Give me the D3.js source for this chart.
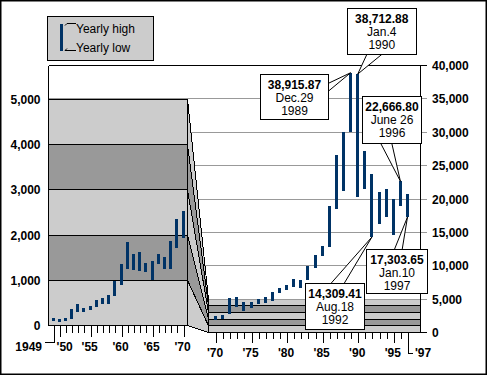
<!DOCTYPE html>
<html><head><meta charset="utf-8">
<script src="https://cdn.jsdelivr.net/npm/d3@7"></script>
<style>
body{margin:0;background:#fff;}
svg{display:block;font-family:"Liberation Sans",Arial,sans-serif;}
</style></head><body>
<svg id="c" width="487" height="375"></svg>
<script>
// ---------------- DATA ----------------
const years = [1949,1950,1951,1952,1953,1954,1955,1956,1957,1958,1959,1960,1961,1962,1963,1964,1965,1966,1967,1968,1969,1970,
  1971,1972,1973,1974,1975,1976,1977,1978,1979,1980,1981,1982,1983,1984,1985,1986,1987,1988,1989,1990,1991,1992,1993,1994,1995,1996,1997];
const yearlyHigh = [161,133,168,360,471,383,434,560,604,670,987,1363,1843,1577,1622,1378,1422,1577,1511,1865,2357,2534,
  2600,5100,5341,4591,4591,4996,5341,6092,6692,7097,7997,7847,9992,11598,12993,18950,26602,30098,38915.87,38712.88,27202,23750,21000,21450,20000,22666.80,20750];
const yearlyLow = [102,80,102,146,301,294,338,411,478,478,655,898,1245,1223,1201,1179,1002,1356,1245,1245,1710,1930,
  1980,2746,3841,3241,3601,4246,4441,4741,5851,6347,6752,6692,7847,9602,11493,12843,18455,21245,30098,20255,21500,14309.41,16200,17350,14550,19000,17303.65];

const leftYTicks = [0,1000,2000,3000,4000,5000];
const rightYTicks = [0,5000,10000,15000,20000,25000,30000,35000,40000];
const leftXMajor = [1950,1955,1960,1965,1970];
const leftXLabels = ["'50","'55","'60","'65","'70"];
const rightXMajor = [1970,1975,1980,1985,1990,1995];
const rightXLabels = ["'70","'75","'80","'85","'90","'95"];
const firstYearLabel = "1949";
const lastYearLabel = "'97";

const legendLabels = ["Yearly high","Yearly low"];

// callouts: year, which end of the bar, texts
const callouts = [
  {year:1990, end:"high", value:"38,712.88", date:"Jan.4",   yr:"1990"},
  {year:1989, end:"high", value:"38,915.87", date:"Dec.29",  yr:"1989"},
  {year:1996, end:"high", value:"22,666.80", date:"June 26", yr:"1996"},
  {year:1992, end:"low",  value:"14,309.41", date:"Aug.18",  yr:"1992"},
  {year:1997, end:"low",  value:"17,303.65", date:"Jan.10",  yr:"1997"}
];

// ---------------- LAYOUT ----------------
const svg = d3.select("#c");
const navy = "#003366", light = "#cccccc", dark = "#999999", grid = "#999999";
const data = years.map((y,i)=>({year:y, high:yearlyHigh[i], low:yearlyLow[i]}));
const leftData = data.filter(d=>d.year<=1970);
const rightData = data.filter(d=>d.year>=1970);

const xL = d3.scaleLinear().domain([1949,1970]).range([53.5,183.5]);
const yL = d3.scaleLinear().domain([0,5000]).range([325.5,99.5]);
const xR = d3.scaleLinear().domain([1970,1997]).range([216,408]);
const yR = d3.scaleLinear().domain([0,40000]).range([332.5,65.5]);

const Lx0 = 48.5, Lx1 = 187.5, Rx0 = 208.5, Rx1 = 420.5;

const g = svg.append("g").attr("shape-rendering","crispEdges");

// outer frame
svg.append("rect").attr("x",0.75).attr("y",0.75).attr("width",485.5).attr("height",373.5)
  .attr("fill","none").attr("stroke","#000").attr("stroke-width",1.5);

// gridlines of the right scale (behind everything)
g.selectAll(".grid").data(rightYTicks.filter(v=>v>0 && v<40000)).enter().append("line")
  .attr("x1",Lx0).attr("x2",427).attr("y1",d=>yR(d)).attr("y2",d=>yR(d))
  .attr("stroke",grid);
// top border (40,000)
g.append("line").attr("x1",Lx0).attr("x2",427).attr("y1",yR(40000)).attr("y2",yR(40000)).attr("stroke","#000");
// left border upper part
g.append("line").attr("x1",Lx0).attr("x2",Lx0).attr("y1",yR(40000)).attr("y2",yL(0)).attr("stroke","#000");
// right border
g.append("line").attr("x1",Rx1).attr("x2",Rx1).attr("y1",yR(40000)).attr("y2",yR(0)).attr("stroke","#000");

// bands
const bands = [0,1,2,3,4].map(k=>({lo:leftYTicks[k], hi:leftYTicks[k+1], fill: k%2===0?light:dark}));

// left panel bands
g.selectAll(".lb").data(bands).enter().append("rect")
  .attr("x",Lx0).attr("width",Lx1-Lx0)
  .attr("y",d=>yL(d.hi)).attr("height",d=>yL(d.lo)-yL(d.hi))
  .attr("fill",d=>d.fill).attr("stroke","#000");

// connector polygons
g.selectAll(".cb").data(bands).enter().append("polygon")
  .attr("points",d=>[[Lx1,yL(d.lo)],[Lx1,yL(d.hi)],[Rx0,yR(d.hi)],[Rx0,yR(d.lo)]].map(p=>p.join(",")).join(" "))
  .attr("fill",d=>d.fill).attr("stroke","#000").attr("stroke-linejoin","bevel");

// right bands
g.selectAll(".rb").data(bands).enter().append("rect")
  .attr("x",Rx0).attr("width",Rx1-Rx0)
  .attr("y",d=>yR(d.hi)).attr("height",d=>yR(d.lo)-yR(d.hi))
  .attr("fill",d=>d.fill);
g.selectAll(".rbl").data(leftYTicks.slice(0,5)).enter().append("line")
  .attr("x1",Rx0).attr("x2",Rx1).attr("y1",d=>yR(d)).attr("y2",d=>yR(d)).attr("stroke","#000");
g.append("line").attr("x1",Rx0).attr("x2",427).attr("y1",yR(5000)).attr("y2",yR(5000)).attr("stroke",grid);
g.append("line").attr("x1",Rx1).attr("x2",427).attr("y1",yR(0)).attr("y2",yR(0)).attr("stroke","#000");
g.append("line").attr("x1",Rx1).attr("x2",Rx1).attr("y1",yR(5000)).attr("y2",yR(0)).attr("stroke","#000");

// bars
g.selectAll(".barL").data(leftData).enter().append("rect")
  .attr("x",d=>Math.round(xL(d.year))-2).attr("width",3)
  .attr("y",d=>yL(d.high)).attr("height",d=>Math.max(1,yL(d.low)-yL(d.high)))
  .attr("fill",navy);
g.selectAll(".barR").data(rightData).enter().append("rect")
  .attr("x",d=>Math.round(xR(d.year))-2).attr("width",3)
  .attr("y",d=>yR(d.high)).attr("height",d=>Math.max(1,yR(d.low)-yR(d.high)))
  .attr("fill",navy);

// x axes (ticks via d3 axes)
const leftMinor = years.filter(y=>y<=1970 && y>1949 && leftXMajor.indexOf(y)<0);
g.append("g").attr("transform",`translate(0,${yL(0)})`)
  .call(d3.axisBottom(xL).tickValues(leftMinor).tickSize(7).tickFormat(""))
  .call(a=>a.select(".domain").remove());
g.append("g").attr("transform",`translate(0,${yL(0)})`)
  .call(d3.axisBottom(xL).tickValues(leftXMajor).tickSize(11).tickFormat(""))
  .call(a=>a.select(".domain").remove());
const rightMinor = years.filter(y=>y>=1970 && y<1997 && rightXMajor.indexOf(y)<0);
g.append("g").attr("transform",`translate(0,${yR(0)})`)
  .call(d3.axisBottom(xR).tickValues(rightMinor).tickSize(6).tickFormat(""))
  .call(a=>a.select(".domain").remove());
g.append("g").attr("transform",`translate(0,${yR(0)})`)
  .call(d3.axisBottom(xR).tickValues(rightXMajor).tickSize(10).tickFormat(""))
  .call(a=>a.select(".domain").remove());
svg.selectAll(".tick line").attr("stroke","#000");

// first / last year leaders
const fx = Math.round(xL(1949))+0.5;
g.append("polyline").attr("points",`${fx},${yL(0)} ${fx},342.5 45,342.5`).attr("fill","none").attr("stroke","#000");
const lx = Math.round(xR(1997))+0.5;
g.append("polyline").attr("points",`${lx},${yR(0)} ${lx},353.5 413,353.5`).attr("fill","none").attr("stroke","#000");

const bold = sel=>sel.attr("font-weight","bold").attr("font-size","12px").attr("fill","#000");
// x labels
bold(svg.append("text").attr("x",42).attr("y",351).attr("text-anchor","end").text(firstYearLabel));
bold(svg.selectAll(".xl").data(leftXMajor).enter().append("text")
  .attr("x",(d,i)=>xL(d)+(i===0?5:-1)).attr("y",351).attr("text-anchor","middle").text((d,i)=>leftXLabels[i]));
bold(svg.selectAll(".xr").data(rightXMajor).enter().append("text")
  .attr("x",d=>xR(d)-1).attr("y",357).attr("text-anchor","middle").text((d,i)=>rightXLabels[i]));
bold(svg.append("text").attr("x",415).attr("y",357).attr("text-anchor","start").text(lastYearLabel));

// y labels
bold(svg.selectAll(".yl").data(leftYTicks).enter().append("text")
  .attr("x",40.5).attr("y",d=>yL(d)+4.5).attr("text-anchor","end").text(d3.format(",")));
bold(svg.selectAll(".yr").data(rightYTicks).enter().append("text")
  .attr("x",432).attr("y",d=>yR(d)+4.5).attr("text-anchor","start").text(d3.format(",")));

// callouts
const boxLayout = {
  1990:{x:347.5,y:8.5,w:68.5,h:45.5, base:[[367.5,53],[383.5,53]]},
  1989:{x:260.5,y:74.5,w:68,h:45, base:[[328,83.5],[328,91.5]]},
  1996:{x:362.5,y:96.5,w:59,h:46.5, base:[[380,142],[391.5,142]]},
  1992:{x:305.5,y:283.5,w:59,h:46, base:[[330,284.5],[343.5,284.5]]},
  1997:{x:366.5,y:249.5,w:61,h:44, base:[[394,250.5],[402,250.5]]}
};
const cg = svg.append("g");
callouts.forEach(c=>{
  const d = data.find(e=>e.year===c.year);
  const L = boxLayout[c.year];
  const tip = [xR(c.year)-0.5, c.end==="high"? yR(d.high) : yR(d.low)];
  cg.append("polygon").attr("points",[L.base[0],tip,L.base[1]].map(p=>p.join(",")).join(" "))
    .attr("fill","#fff").attr("stroke","#000");
  cg.append("rect").attr("x",L.x).attr("y",L.y).attr("width",L.w).attr("height",L.h)
    .attr("fill","#fff").attr("stroke","#000").attr("shape-rendering","crispEdges");
  const cx = L.x + L.w/2;
  bold(cg.append("text").attr("x",cx).attr("y",L.y+14).attr("text-anchor","middle").text(c.value));
  cg.append("text").attr("x",cx).attr("y",L.y+27.5).attr("text-anchor","middle").attr("font-size","12px").text(c.date);
  cg.append("text").attr("x",cx).attr("y",L.y+40.5).attr("text-anchor","middle").attr("font-size","12px").text(c.yr);
});

// legend
const lg = svg.append("g");
lg.append("rect").attr("x",47.5).attr("y",16.5).attr("width",106).attr("height",44)
  .attr("fill",light).attr("stroke","#000").attr("shape-rendering","crispEdges");
lg.append("rect").attr("x",60).attr("y",24).attr("width",3).attr("height",27).attr("fill",navy);
lg.append("polyline").attr("points","65,25.5 67,23.5 76,23.5").attr("fill","none").attr("stroke","#000");
lg.append("polyline").attr("points","67,48.5 65,50.5 76,50.5").attr("fill","none").attr("stroke","#000");
lg.selectAll("text").data(legendLabels).enter().append("text")
  .attr("x",76).attr("y",(d,i)=>i===0?33:52).attr("font-size","12px").text(d=>d);
</script>
</body></html>
